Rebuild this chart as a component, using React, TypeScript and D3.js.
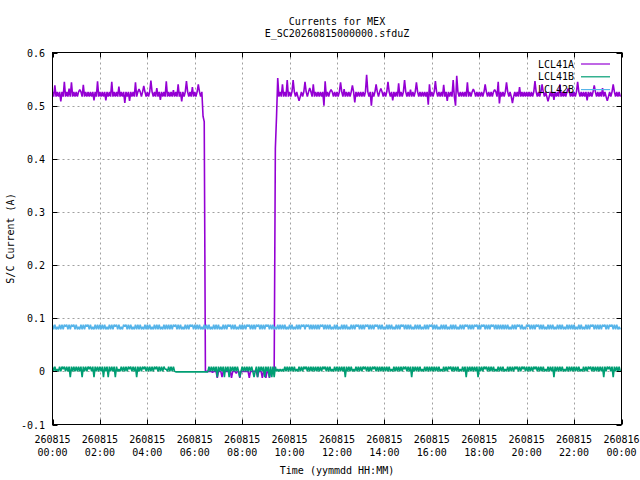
import React, { useRef, useEffect } from 'react';
import * as d3 from 'd3';

const width = 640;
const height = 480;

const titleText = 'Currents for MEX';
const subtitleText = 'E_SC20260815000000.sfduZ';
const xLabel = 'Time (yymmdd HH:MM)';
const yLabel = 'S/C Current (A)';

const seriesNames = ['LCL41A', 'LCL41B', 'LCL42B'];
const seriesColors = ['#9400d3', '#009e73', '#56b4e9'];

const yTicks = [-0.1, 0, 0.1, 0.2, 0.3, 0.4, 0.5, 0.6];
// x ticks in minutes from 260815 00:00
const xTickMinutes = [0, 120, 240, 360, 480, 600, 720, 840, 960, 1080, 1200, 1320, 1440];
const xTickDates = ['260815', '260815', '260815', '260815', '260815', '260815', '260815',
  '260815', '260815', '260815', '260815', '260815', '260816'];
const xTickTimes = ['00:00', '02:00', '04:00', '06:00', '08:00', '10:00', '12:00',
  '14:00', '16:00', '18:00', '20:00', '22:00', '00:00'];

// samples every 3 minutes from 260815 00:00, in mA (one row per hour)
const sampleStep = 3;

const lcl41a = [
  526, 517, 538, 517, 526, 517, 526, 508, 526, 517, 545, 517, 526, 517, 532, 517, 544, 517, 526, 517,
  526, 517, 526, 530, 526, 517, 539, 517, 526, 517, 526, 517, 526, 517, 526, 510, 526, 517, 546, 517,
  526, 517, 526, 517, 526, 510, 526, 517, 526, 517, 545, 517, 526, 517, 526, 517, 536, 517, 526, 517,
  526, 505, 526, 517, 526, 509, 526, 517, 526, 517, 544, 517, 526, 531, 526, 517, 526, 537, 526, 517,
  526, 517, 526, 547, 526, 517, 526, 517, 533, 517, 526, 511, 526, 517, 526, 517, 546, 517, 526, 517,
  526, 517, 529, 517, 526, 517, 540, 517, 526, 508, 526, 517, 526, 546, 526, 517, 526, 517, 535, 517,
  526, 517, 526, 540, 526, 517, 526, 480, 470, 0, 0, 0, 0, 0, 0, -2, 0, 0, 0, -12,
  0, 0, 0, -11, 0, 0, 0, 0, 0, 0, 0, -12, 0, 0, 0, -4, 0, 0, -12, 0,
  0, 0, 0, 0, 0, 0, -12, 0, 0, 0, 0, 0, 0, -11, 0, 0, 0, -12, 0, 0,
  -12, 0, 0, -12, 0, 0, 0, 0, 420, 480, 552, 517, 526, 517, 540, 517, 526, 517, 548, 517,
  526, 517, 526, 548, 526, 517, 526, 517, 509, 517, 526, 517, 526, 545, 526, 517, 526, 533, 526, 517,
  540, 517, 526, 517, 526, 517, 526, 517, 526, 500, 546, 517, 526, 517, 526, 530, 526, 517, 526, 517,
  526, 517, 526, 544, 526, 517, 531, 517, 526, 517, 526, 517, 526, 538, 526, 506, 526, 517, 526, 517,
  526, 517, 526, 517, 526, 558, 526, 517, 526, 500, 526, 517, 526, 540, 526, 517, 526, 532, 526, 517,
  526, 517, 526, 545, 526, 517, 526, 510, 526, 517, 526, 517, 542, 517, 526, 517, 526, 548, 526, 517,
  526, 517, 530, 517, 526, 517, 526, 544, 526, 517, 526, 517, 526, 517, 526, 517, 526, 502, 540, 517,
  526, 517, 526, 546, 526, 517, 526, 517, 526, 517, 539, 517, 526, 509, 526, 517, 526, 517, 548, 517,
  500, 556, 526, 517, 526, 517, 526, 517, 526, 517, 544, 517, 526, 517, 526, 531, 526, 517, 526, 517,
  526, 517, 526, 517, 526, 540, 526, 517, 526, 517, 526, 517, 526, 530, 526, 517, 545, 504, 526, 517,
  526, 517, 526, 544, 526, 517, 526, 517, 505, 517, 526, 517, 526, 517, 535, 517, 526, 517, 526, 517,
  526, 517, 526, 517, 526, 517, 526, 546, 526, 517, 526, 517, 526, 540, 526, 517, 526, 517, 508, 517,
  526, 517, 526, 511, 526, 517, 526, 517, 540, 517, 526, 517, 526, 517, 526, 532, 526, 517, 526, 517,
  526, 517, 526, 545, 526, 517, 526, 517, 526, 517, 526, 510, 526, 517, 526, 517, 526, 538, 526, 517,
  526, 517, 526, 517, 533, 517, 526, 517, 509, 517, 526, 517, 526, 540, 526, 517, 526, 517, 526, 517,
];

const lcl41b = [
  9, 0, 9, 0, 4, 0, 9, 0, 9, 4, 9, 0, 9, 0, 9, -11, 9, 0, 9, 0,
  9, 0, 9, 0, 9, -11, 9, 0, 9, 0, 9, 4, 9, 0, 9, -11, 9, 0, 9, 0,
  9, 0, 9, -11, 9, 0, 9, -11, 9, 0, 9, 0, 9, -11, 9, 0, 4, 0, 9, 0,
  9, 0, 9, 0, 9, 4, 9, 0, 9, 0, 9, -11, 9, 0, 9, 0, 9, 4, 9, 0,
  9, 0, 9, 0, 9, 0, 9, 4, 9, 0, 9, 0, 9, 0, 9, 4, 4, 0, 9, 0,
  9, 0, 9, 0, -1, -1, -1, -1, -1, -1, -1, -1, -1, -1, -1, -1, -1, -1, -1, -1,
  -1, -1, -1, -1, -1, -1, -1, -1, -1, -1, -1, -1, 9, 0, 9, 0, 9, 0, 9, -11,
  9, 0, 9, 0, 9, -11, 9, 0, 9, -11, 9, 0, 9, 0, 9, 0, 9, 0, -11, 0,
  9, 0, 9, 0, 9, 0, 9, 0, 9, 0, -11, 0, 9, -11, 9, 0, 9, 0, 9, -11,
  9, 0, 9, -11, 9, -11, 9, -11, 9, 0, 4, 0, 4, 0, 4, 0, 9, 0, 9, 0,
  9, 0, 9, 0, 9, 0, 4, 0, 9, 0, 9, 0, 9, 4, 9, 0, 9, 0, 9, 0,
  9, 0, 9, 0, 9, 0, 9, 0, 9, 4, 9, 0, 9, 0, 9, 0, 4, 0, 9, 0,
  9, 0, 9, 0, 9, 0, 9, -11, 9, 0, 9, 0, 9, 0, 4, 0, 9, 0, 9, 0,
  9, 0, 9, 4, 9, 0, 9, 0, 9, 0, 9, 4, 9, 0, 9, 0, 9, 0, 9, 0,
  9, 0, 9, 0, 9, 0, 4, 0, 9, 0, 9, 0, 9, 0, 9, 0, 9, 4, 9, 0,
  9, 0, 9, -11, 9, 0, 9, 0, 9, 0, 9, 0, 4, 0, 9, 0, 9, 0, 9, 0,
  9, 0, 9, 0, 9, 0, 9, 0, 4, 0, 9, 0, 9, 0, 9, 4, 9, 0, 9, 0,
  9, 0, 9, 0, 4, 0, 9, 0, 9, -11, 9, 0, 9, 0, 9, 0, 9, 0, 9, -11,
  9, 0, 9, 0, 9, 4, 9, 0, 9, 0, 9, 0, 9, 0, 4, 0, 9, 0, 9, 0,
  9, 0, 4, 0, 9, 0, 9, 0, 9, 0, 9, 4, 9, 0, 9, 0, 9, 4, 9, 0,
  9, 0, 9, 0, 9, 0, 9, 4, 9, 0, 9, 0, 9, 0, 9, 0, 4, 0, 9, 0,
  9, 0, 9, -11, 9, 0, 9, 0, 9, 0, 9, 0, 4, 0, 9, 0, 9, 0, 9, 0,
  9, 0, 9, 0, 9, 0, 4, 0, 9, 0, 9, 0, 9, 4, 9, 0, 9, 0, 9, 0,
  9, 0, 9, 0, 9, -11, 9, 0, 9, 4, 9, 0, 9, -11, 9, 0, 9, 0, 9, 0,
];

const lcl42b = [
  88, 79, 88, 79, 84, 79, 88, 79, 88, 79, 88, 84, 88, 79, 88, 79, 88, 84, 88, 79,
  88, 79, 84, 79, 88, 79, 88, 79, 88, 84, 88, 79, 88, 79, 84, 79, 88, 79, 88, 79,
  88, 79, 88, 79, 88, 79, 84, 79, 88, 79, 88, 79, 88, 84, 88, 79, 88, 79, 84, 79,
  88, 84, 88, 79, 88, 79, 88, 79, 84, 79, 88, 79, 88, 79, 88, 79, 84, 79, 88, 79,
  88, 79, 88, 79, 84, 79, 88, 79, 88, 79, 88, 79, 84, 79, 88, 79, 88, 79, 88, 79,
  88, 79, 88, 84, 88, 79, 88, 79, 88, 79, 84, 79, 88, 79, 88, 79, 88, 84, 88, 79,
  88, 79, 88, 79, 88, 79, 84, 79, 88, 79, 88, 79, 88, 79, 84, 79, 88, 79, 88, 79,
  88, 79, 84, 79, 88, 79, 88, 79, 88, 84, 88, 79, 88, 79, 88, 79, 84, 79, 88, 79,
  88, 79, 88, 79, 88, 84, 88, 79, 88, 79, 88, 79, 88, 84, 88, 79, 88, 79, 88, 79,
  88, 84, 88, 79, 88, 79, 88, 79, 84, 79, 88, 79, 88, 79, 88, 79, 88, 79, 84, 79,
  88, 79, 88, 79, 84, 79, 88, 79, 88, 79, 88, 84, 88, 79, 88, 84, 88, 79, 88, 79,
  88, 79, 88, 79, 88, 79, 88, 84, 88, 79, 88, 79, 88, 79, 88, 79, 84, 79, 88, 79,
  88, 79, 84, 79, 88, 79, 88, 79, 88, 79, 84, 79, 88, 79, 88, 79, 88, 84, 88, 79,
  88, 79, 88, 79, 88, 84, 88, 79, 88, 79, 88, 79, 88, 84, 88, 79, 88, 79, 88, 79,
  84, 79, 88, 79, 88, 79, 88, 79, 84, 79, 88, 79, 88, 79, 88, 84, 88, 79, 88, 79,
  88, 79, 88, 79, 84, 79, 88, 79, 88, 79, 88, 79, 84, 79, 88, 79, 88, 79, 88, 84,
  88, 79, 88, 79, 88, 79, 84, 79, 88, 79, 88, 79, 88, 79, 84, 79, 88, 79, 88, 79,
  88, 79, 84, 79, 88, 79, 88, 79, 88, 84, 88, 79, 88, 79, 88, 79, 88, 84, 88, 79,
  88, 79, 88, 84, 88, 79, 88, 79, 88, 79, 88, 84, 88, 79, 88, 79, 88, 79, 88, 79,
  88, 79, 88, 79, 88, 79, 84, 79, 88, 79, 88, 79, 88, 84, 88, 79, 88, 79, 84, 79,
  88, 84, 88, 79, 88, 79, 88, 79, 88, 84, 88, 79, 88, 79, 88, 79, 84, 79, 88, 79,
  88, 79, 88, 79, 84, 79, 88, 79, 88, 79, 88, 79, 84, 79, 88, 79, 88, 79, 88, 79,
  88, 79, 84, 79, 88, 79, 88, 79, 84, 79, 88, 79, 88, 79, 88, 84, 88, 79, 88, 79,
  88, 79, 88, 79, 88, 84, 88, 79, 88, 79, 88, 84, 88, 79, 88, 79, 88, 79, 84, 79,
];

const seriesValues = [lcl41a, lcl41b, lcl42b];

const font = '"DejaVu Sans Mono", monospace';

const CurrentsChart: React.FC = () => {
  const svgRef = useRef<SVGSVGElement>(null);

  useEffect(() => {
    if (!svgRef.current) return;
    const svg = d3.select(svgRef.current);
    svg.selectAll('*').remove();

    const plot = { left: 52.5, right: 621.5, top: 52.5, bottom: 424.5 };

    const x = d3.scaleLinear().domain([0, 1440]).range([plot.left, plot.right]);
    const y = d3.scaleLinear().domain([-0.1, 0.6]).range([plot.bottom, plot.top]);

    svg.append('rect').attr('width', width).attr('height', height).attr('fill', '#ffffff');

    // grid
    const grid = svg.append('g')
      .attr('stroke', '#a0a0a0')
      .attr('stroke-width', 1)
      .attr('stroke-dasharray', '2,3');
    xTickMinutes.slice(1, -1).forEach((m) => {
      const px = Math.round(x(m)) + 0.5;
      grid.append('line')
        .attr('x1', px).attr('x2', px)
        .attr('y1', plot.bottom - 5).attr('y2', plot.top + 5);
    });
    yTicks.slice(1, -1).forEach((v) => {
      const py = Math.round(y(v)) + 0.5;
      grid.append('line')
        .attr('x1', plot.left + 5).attr('x2', plot.right - 5)
        .attr('y1', py).attr('y2', py);
    });

    // data
    svg.append('defs').append('clipPath').attr('id', 'plot-clip')
      .append('rect')
      .attr('x', plot.left).attr('y', plot.top)
      .attr('width', plot.right - plot.left).attr('height', plot.bottom - plot.top);

    const line = d3.line<number>()
      .x((_, i) => x(i * sampleStep))
      .y((d) => y(d / 1000));

    const dataG = svg.append('g').attr('clip-path', 'url(#plot-clip)');
    seriesValues.forEach((vals, i) => {
      dataG.append('path')
        .datum(vals)
        .attr('fill', 'none')
        .attr('stroke', seriesColors[i])
        .attr('stroke-width', 1.6)
        .attr('stroke-linejoin', 'bevel')
        .attr('d', line);
    });

    // border and ticks
    svg.append('rect')
      .attr('x', plot.left).attr('y', plot.top)
      .attr('width', plot.right - plot.left).attr('height', plot.bottom - plot.top)
      .attr('fill', 'none').attr('stroke', '#000000').attr('stroke-width', 1);

    const ticks = svg.append('g').attr('stroke', '#000000').attr('stroke-width', 1);
    xTickMinutes.forEach((m) => {
      const px = Math.round(x(m)) + 0.5;
      ticks.append('line').attr('x1', px).attr('x2', px).attr('y1', plot.bottom).attr('y2', plot.bottom - 5);
      ticks.append('line').attr('x1', px).attr('x2', px).attr('y1', plot.top).attr('y2', plot.top + 5);
    });
    yTicks.forEach((v) => {
      const py = Math.round(y(v)) + 0.5;
      ticks.append('line').attr('x1', plot.left).attr('x2', plot.left + 5).attr('y1', py).attr('y2', py);
      ticks.append('line').attr('x1', plot.right).attr('x2', plot.right - 5).attr('y1', py).attr('y2', py);
    });

    const txt = svg.append('g')
      .attr('font-family', font)
      .attr('font-size', 10)
      .attr('fill', '#000000');

    // y tick labels
    yTicks.forEach((v) => {
      txt.append('text')
        .attr('x', 45)
        .attr('y', y(v) + 4)
        .attr('text-anchor', 'end')
        .text(v === 0 ? '0' : v.toFixed(1));
    });

    // x tick labels
    xTickMinutes.forEach((m, i) => {
      txt.append('text')
        .attr('x', x(m))
        .attr('y', 443)
        .attr('text-anchor', 'middle')
        .text(xTickDates[i]);
      txt.append('text')
        .attr('x', x(m))
        .attr('y', 456)
        .attr('text-anchor', 'middle')
        .text(xTickTimes[i]);
    });

    const cx = (plot.left + plot.right) / 2;
    txt.append('text').attr('x', cx).attr('y', 25).attr('text-anchor', 'middle').text(titleText);
    txt.append('text').attr('x', cx).attr('y', 37).attr('text-anchor', 'middle').text(subtitleText);
    txt.append('text').attr('x', cx).attr('y', 474).attr('text-anchor', 'middle').text(xLabel);
    txt.append('text')
      .attr('transform', `translate(14, ${(plot.top + plot.bottom) / 2}) rotate(-90)`)
      .attr('text-anchor', 'middle')
      .text(yLabel);

    // key
    seriesNames.forEach((name, i) => {
      const ky = 64 + i * 12.8;
      svg.append('line')
        .attr('x1', 581).attr('x2', 610)
        .attr('y1', ky).attr('y2', ky)
        .attr('stroke', seriesColors[i])
        .attr('stroke-width', 1.2);
      txt.append('text')
        .attr('x', 574)
        .attr('y', ky + 3.5)
        .attr('text-anchor', 'end')
        .text(name);
    });
  }, []);

  return <svg ref={svgRef} width={width} height={height} style={{ display: 'block' }} />;
};

export default function App() {
  return (
    <div style={{ position: 'absolute', left: 0, top: 0 }}>
      <CurrentsChart />
    </div>
  );
}
